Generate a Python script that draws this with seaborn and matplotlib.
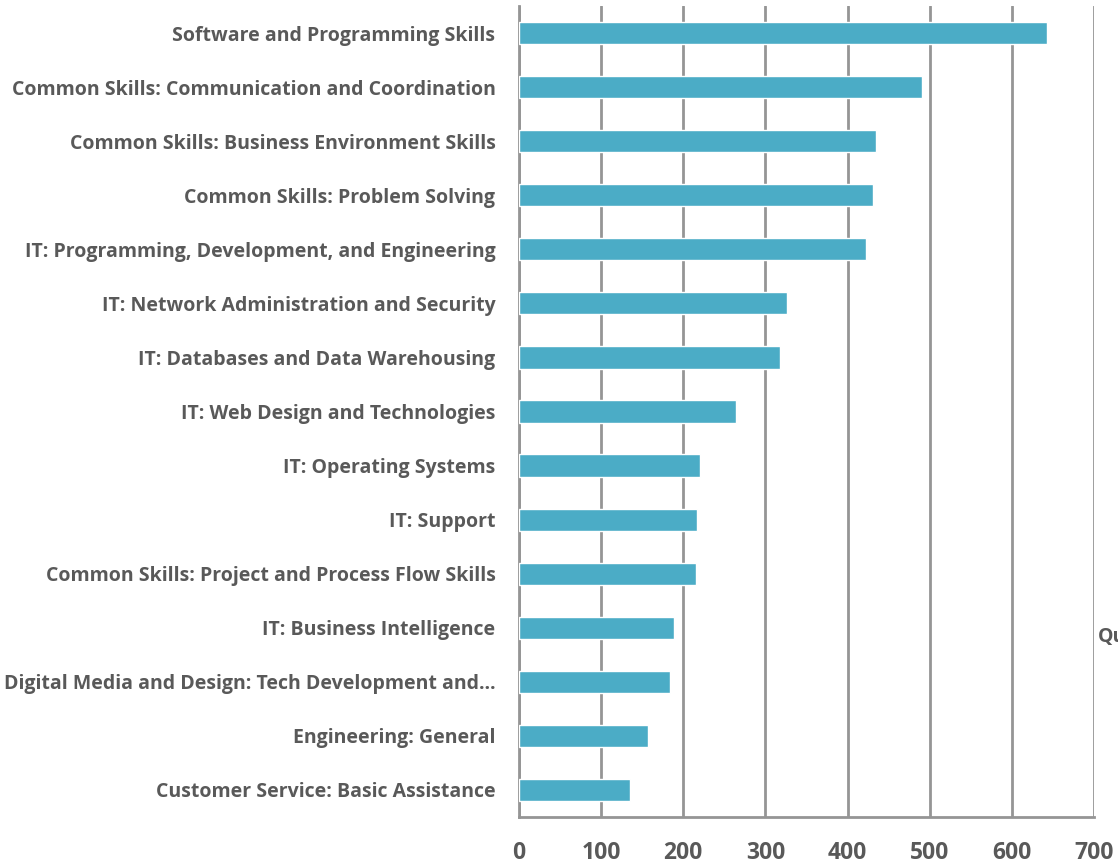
import matplotlib
matplotlib.use("Agg")
import matplotlib.pyplot as plt
import seaborn as sns
import pandas as pd
import numpy as np

categories = [
    "Software and Programming Skills",
    "Common Skills: Communication and Coordination",
    "Common Skills: Business Environment Skills",
    "Common Skills: Problem Solving",
    "IT: Programming, Development, and Engineering",
    "IT: Network Administration and Security",
    "IT: Databases and Data Warehousing",
    "IT: Web Design and Technologies",
    "IT: Operating Systems",
    "IT: Support",
    "Common Skills: Project and Process Flow Skills",
    "IT: Business Intelligence",
    "Digital Media and Design: Tech Development and\u2026",
    "Engineering: General",
    "Customer Service: Basic Assistance",
]
values = [643, 491, 435, 431, 422, 326, 318, 264, 220, 217, 215, 189, 184, 157, 135]
x_ticks = [0, 100, 200, 300, 400, 500, 600, 700]

sns.set_theme(style="white")
plt.rcParams['font.family'] = ['Open Sans', 'DejaVu Sans']

df = pd.DataFrame({"skill": categories, "count": values})

fig = plt.figure(figsize=(11.18, 8.63), dpi=100)
ax = fig.add_axes([519/1118, 1-817/863, (1094-519)/1118, (817-6)/863])

sns.barplot(data=df, y="skill", x="count", orient="h", color="#4BACC6",
            saturation=1, width=0.41, ax=ax, zorder=3)

gray = "#959595"
text_col = "#595959"
ax.set_xlim(0, 700)
ax.set_ylim(len(categories) - 0.5, -0.5)
ax.set_xticks(x_ticks)
ax.set_xticklabels([str(t) for t in x_ticks], fontsize=16.5, fontweight="bold", color=text_col)
ax.xaxis.grid(True, color=gray, linewidth=2, zorder=0)
ax.yaxis.grid(False)
ax.set_axisbelow(True)

ax.set_yticks(np.arange(len(categories)))
ax.set_yticklabels(categories, fontsize=14.0, fontweight="bold", color=text_col)
ax.set_yticks(np.arange(-0.5, len(categories), 1.0), minor=True)
ax.tick_params(axis="y", which="major", length=0, pad=17)
ax.tick_params(axis="y", which="minor", length=6, width=2, color=gray, direction="out")
ax.tick_params(axis="x", which="major", length=6, width=2, color=gray, direction="out", pad=11)

for s in ["top", "right"]:
    ax.spines[s].set_visible(False)
for s in ["left", "bottom"]:
    ax.spines[s].set_color(gray)
    ax.spines[s].set_linewidth(2)

ax.set_xlabel("")
ax.set_ylabel("")

fig.text(1098/1118, 1-637/863, "Quantity", fontsize=14.0, fontweight="bold",
         color=text_col, ha="left", va="center")

fig.savefig("out.png", dpi=100)
